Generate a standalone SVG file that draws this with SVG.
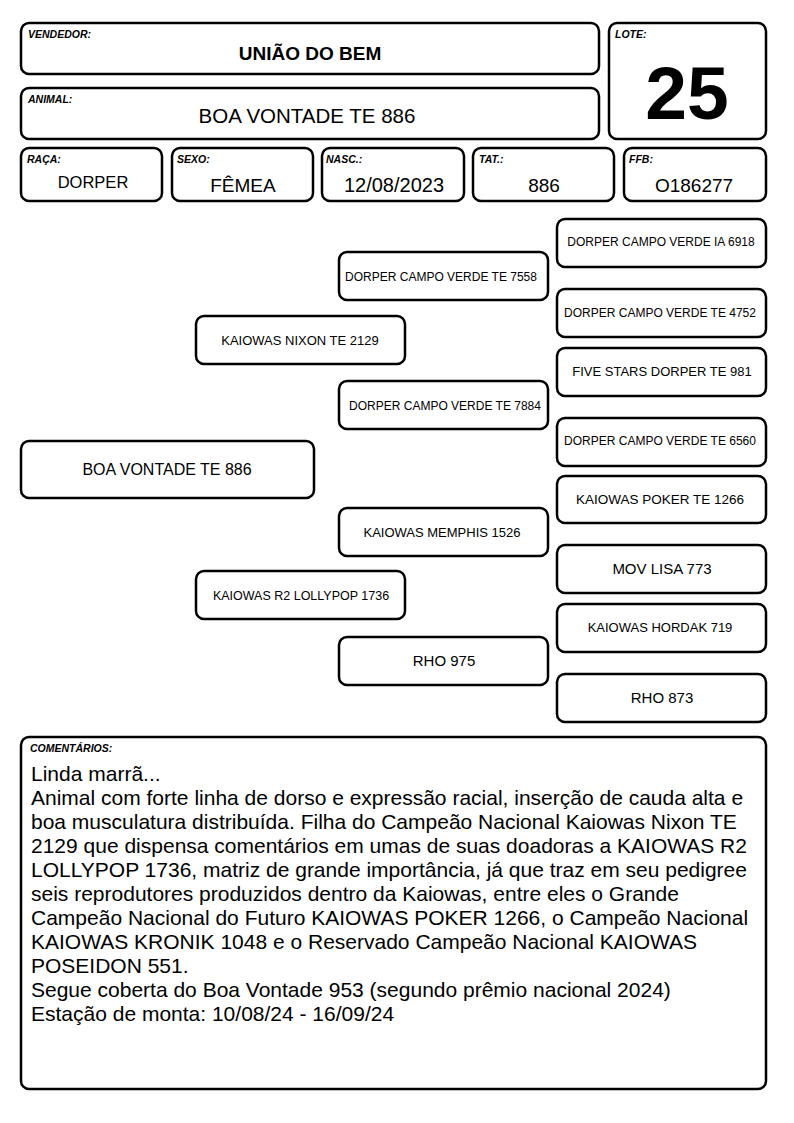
<svg xmlns="http://www.w3.org/2000/svg" width="794" height="1123" viewBox="0 0 794 1123">
<style>
.b{fill:#fff;stroke:#000;stroke-width:2.5}
.lb{font-family:"Liberation Sans",Arial,sans-serif;font-size:10.5px;font-weight:bold;font-style:italic;fill:#000}
.v{font-family:"Liberation Sans",Arial,sans-serif;font-size:19px;fill:#000;text-anchor:middle}
.p{font-family:"Liberation Sans",Arial,sans-serif;font-size:12px;fill:#000;text-anchor:middle}
.c{font-family:"Liberation Sans",Arial,sans-serif;font-size:21px;fill:#000}
</style>
<rect width="794" height="1123" fill="#fff"/>
<g id="vendedor"><rect class="b" x="21" y="23" width="578" height="51" rx="8"/><text class="lb" x="28" y="38">VENDEDOR:</text><text class="v" x="310" y="60" font-weight="bold">UNIÃO DO BEM</text></g>
<g id="animal"><rect class="b" x="21" y="88" width="578" height="51" rx="8"/><text class="lb" x="28" y="103">ANIMAL:</text><text class="v" x="307" y="123" style="font-size:20.5px">BOA VONTADE TE 886</text></g>
<g id="lote"><rect class="b" x="609" y="23" width="157" height="116" rx="8"/><text class="lb" x="615" y="38">LOTE:</text><text class="v" x="687" y="119" style="font-size:75px;font-weight:bold">25</text></g>
<g id="raca"><rect class="b" x="21" y="148" width="141" height="53" rx="8"/><text class="lb" x="27" y="163">RAÇA:</text><text class="v" x="93" y="188" style="font-size:16.5px">DORPER</text></g>
<g id="sexo"><rect class="b" x="172" y="148" width="141" height="53" rx="8"/><text class="lb" x="177" y="163">SEXO:</text><text class="v" x="243" y="192">FÊMEA</text></g>
<g id="nasc"><rect class="b" x="322" y="148" width="142" height="53" rx="8"/><text class="lb" x="326" y="163">NASC.:</text><text class="v" x="394" y="192" style="font-size:20px">12/08/2023</text></g>
<g id="tat"><rect class="b" x="473" y="148" width="141" height="53" rx="8"/><text class="lb" x="479" y="163">TAT.:</text><text class="v" x="544" y="192">886</text></g>
<g id="ffb"><rect class="b" x="624" y="148" width="142" height="53" rx="8"/><text class="lb" x="629" y="163">FFB:</text><text class="v" x="694" y="192">O186277</text></g>
<g id="connectors"></g>
<g id="p0"><rect class="b" x="21" y="441" width="293" height="57" rx="8"/><text class="p" x="167" y="475" style="font-size:16px">BOA VONTADE TE 886</text></g>
<g id="p1"><rect class="b" x="196" y="316" width="209" height="48" rx="8"/><text class="p" x="300" y="345" style="font-size:13px">KAIOWAS NIXON TE 2129</text></g>
<g id="p2"><rect class="b" x="196" y="571" width="209" height="48" rx="8"/><text class="p" x="301" y="600" style="font-size:12.5px">KAIOWAS R2 LOLLYPOP 1736</text></g>
<g id="p3"><rect class="b" x="339" y="252" width="209" height="48" rx="8"/><text class="p" x="441" y="281">DORPER CAMPO VERDE TE 7558</text></g>
<g id="p4"><rect class="b" x="339" y="381" width="209" height="48" rx="8"/><text class="p" x="445" y="410">DORPER CAMPO VERDE TE 7884</text></g>
<g id="p5"><rect class="b" x="339" y="508" width="209" height="48" rx="8"/><text class="p" x="442" y="537" style="font-size:13px">KAIOWAS MEMPHIS 1526</text></g>
<g id="p6"><rect class="b" x="339" y="637" width="209" height="48" rx="8"/><text class="p" x="444" y="666" style="font-size:15px">RHO 975</text></g>
<g id="p7"><rect class="b" x="557" y="219" width="209" height="48" rx="8"/><text class="p" x="661" y="246">DORPER CAMPO VERDE IA 6918</text></g>
<g id="p8"><rect class="b" x="557" y="289" width="209" height="48" rx="8"/><text class="p" x="660" y="317">DORPER CAMPO VERDE TE 4752</text></g>
<g id="p9"><rect class="b" x="557" y="348" width="209" height="48" rx="8"/><text class="p" x="662" y="376" style="font-size:13px">FIVE STARS DORPER TE 981</text></g>
<g id="p10"><rect class="b" x="557" y="418" width="209" height="48" rx="8"/><text class="p" x="660" y="445">DORPER CAMPO VERDE TE 6560</text></g>
<g id="p11"><rect class="b" x="557" y="476" width="209" height="47" rx="8"/><text class="p" x="660" y="504" style="font-size:13.5px">KAIOWAS POKER TE 1266</text></g>
<g id="p12"><rect class="b" x="557" y="545" width="209" height="48" rx="8"/><text class="p" x="662" y="574" style="font-size:15px">MOV LISA 773</text></g>
<g id="p13"><rect class="b" x="557" y="604" width="209" height="48" rx="8"/><text class="p" x="660" y="632" style="font-size:13px">KAIOWAS HORDAK 719</text></g>
<g id="p14"><rect class="b" x="557" y="674" width="209" height="48" rx="8"/><text class="p" x="662" y="703" style="font-size:15px">RHO 873</text></g>
<g id="comentarios"><rect class="b" x="21" y="737" width="745" height="352" rx="8"/><text class="lb" x="30" y="752">COMENTÁRIOS:</text>
<text class="c"><tspan x="31" y="781">Linda marrã...</tspan><tspan x="31" y="805">Animal com forte linha de dorso e expressão racial, inserção de cauda alta e</tspan><tspan x="31" y="829">boa musculatura distribuída. Filha do Campeão Nacional Kaiowas Nixon TE</tspan><tspan x="31" y="853">2129 que dispensa comentários em umas de suas doadoras a KAIOWAS R2</tspan><tspan x="31" y="877">LOLLYPOP 1736, matriz de grande importância, já que traz em seu pedigree</tspan><tspan x="31" y="901">seis reprodutores produzidos dentro da Kaiowas, entre eles o Grande</tspan><tspan x="31" y="925">Campeão Nacional do Futuro KAIOWAS POKER 1266, o Campeão Nacional</tspan><tspan x="31" y="949">KAIOWAS KRONIK 1048 e o Reservado Campeão Nacional KAIOWAS</tspan><tspan x="31" y="973">POSEIDON 551.</tspan><tspan x="31" y="997">Segue coberta do Boa Vontade 953 (segundo prêmio nacional 2024)</tspan><tspan x="31" y="1021">Estação de monta: 10/08/24 - 16/09/24</tspan></text></g>
</svg>
